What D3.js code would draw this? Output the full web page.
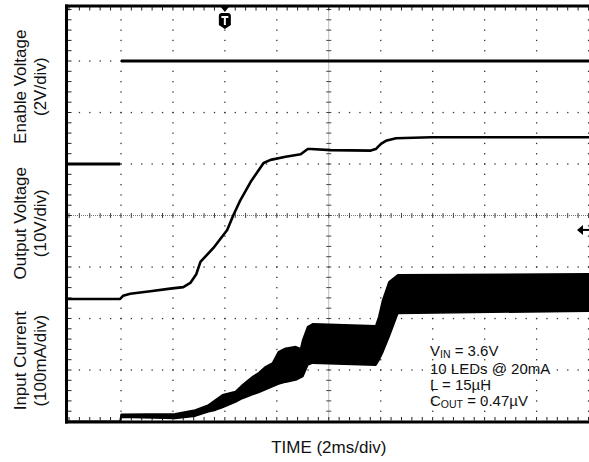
<!DOCTYPE html>
<html lang="en">
<head>
<meta charset="UTF-8">
<title>Startup Waveforms</title>
<script src="https://cdnjs.cloudflare.com/ajax/libs/d3/7.8.5/d3.min.js"></script>
<style>
    body { margin: 0; background: #fff; }
    svg { display: block; font-family: "Liberation Sans", Arial, sans-serif; }
</style>
</head>
<body>
<svg id="chart" width="589" height="462"></svg>
<script>
// Time in ms, trigger at 0, 2 ms/div, 10 divisions
const timeDomain = [-6, 14];
const divsX = 10, divsY = 8;

// Enable voltage (V) - 2 V/div, ground at division 5
const enableLowT = [-6.05, -4.03];
const enableLowV = [0, 0];
const enableHighT = [-4.0, 14.1];
const enableHighV = [4.0, 4.0];

// Output voltage (V) - 10 V/div, ground at division 2
const outT = [-6.05, -4.03, -3.92, -3.64, -2.87, -2.10, -1.60, -1.33, -1.10, -0.94, -0.44, 0.09, 0.33, 0.60, 0.99,
              1.30, 1.49, 1.76, 2.34, 2.92, 3.19, 3.31, 4.08, 5.62, 5.81, 6.01, 6.20, 6.59, 7.94, 14.1];
const outV = [3.8, 3.8, 4.4, 4.8, 5.3, 5.8, 6.1, 6.9, 8.6, 11.0, 13.7, 17.2, 20.1, 23.0, 26.5,
              28.8, 30.2, 30.8, 31.4, 31.9, 32.9, 32.9, 32.7, 32.6, 32.9, 33.9, 34.5, 35.0, 35.2, 35.2];

// Input current (mA) - 100 mA/div, ground at division 0; switching ripple envelope
const curT   = [-6.05, -4.03, -3.99, -1.91, -1.14, -0.63, -0.36, -0.09, 0.41, 0.68, 1.07, 1.30, 1.57, 1.84,
                2.07, 2.34, 2.73, 2.92, 3.00, 3.19, 3.38, 5.81, 5.93, 6.08, 6.32, 6.66, 14.1];
const curTop = [0, 0, 13.6, 14.6, 22.3, 32.0, 41.7, 51.5, 57.9, 70.9, 87.0, 94.2, 106.4, 113.6,
                135.5, 142.1, 145.2, 141.0, 158.3, 184.1, 189.3, 185.4, 203.5, 235.9, 270.9, 284.5, 286.4];
const curBot = [0, 0, 8.7, 6.2, 10.7, 19.0, 22.3, 27.2, 37.9, 45.0, 52.4, 56.3, 62.1, 68.0,
                72.8, 76.7, 80.6, 85.4, 87.4, 109.7, 113.6, 109.7, 119.4, 134.9, 164.7, 210.1, 214.6];

// Trigger level marker (divisions from bottom)
const triggerLevelDiv = 3.72;

const channelLabels = [
    ["Enable Voltage", "(2V/div)"],
    ["Output Voltage", "(10V/div)"],
    ["Input Current", "(100mA/div)"]
];
const channelLabelDiv = [6.5, 3.85, 1.18];
const xLabel = "TIME (2ms/div)";
const notes = [
    ["V", "IN", " = 3.6V"],
    ["10 LEDs @ 20mA", "", ""],
    ["L = 15\u00b5H", "", ""],
    ["C", "OUT", " = 0.47\u00b5V"]
];

// Screen geometry
const plotLeft = 69, plotRight = 588.5, plotTop = 9.5, plotBottom = 421.5;

const x = d3.scaleLinear().domain(timeDomain).range([plotLeft, plotRight]);
const xDiv = d3.scaleLinear().domain([0, divsX]).range([plotLeft, plotRight]);
const yDiv = d3.scaleLinear().domain([0, divsY]).range([plotBottom, plotTop]);
const yEnable = d3.scaleLinear().domain([-10, 6]).range([plotBottom, plotTop]);
const yOut = d3.scaleLinear().domain([-20, 60]).range([plotBottom, plotTop]);
const yCur = d3.scaleLinear().domain([0, 800]).range([plotBottom, plotTop]);

const svg = d3.select("#chart");

svg.append("defs").append("clipPath").attr("id", "plot-clip")
    .append("rect").attr("x", 67).attr("y", 5).attr("width", 530).attr("height", 418);

// Graticule: dotted division lines
const grid = svg.append("g").attr("fill", "#333");
const minorX = d3.range(0, divsX * 5 + 1).map(i => i / 5);
const minorY = d3.range(0, divsY * 5 + 1).map(i => i / 5);

[1, 2, 3, 4, 6, 7, 8, 9, 10].forEach(k => {
    grid.selectAll(null).data(minorY.slice(1, -1)).enter().append("rect")
        .attr("x", xDiv(k) - 0.6).attr("y", d => yDiv(d) - 0.6)
        .attr("width", 1.3).attr("height", 1.3);
});
[1, 2, 3, 5, 6, 7].forEach(k => {
    grid.selectAll(null).data(minorX.slice(1)).enter().append("rect")
        .attr("x", d => xDiv(d) - 0.6).attr("y", yDiv(k) - 0.6)
        .attr("width", 1.3).attr("height", 1.3);
});

// Centre cross-hair with minor ticks
const centre = svg.append("g").attr("stroke", "#444").attr("stroke-width", 1);
centre.append("line")
    .attr("x1", plotLeft).attr("x2", plotRight).attr("y1", yDiv(4)).attr("y2", yDiv(4))
    .attr("stroke", "#777").attr("stroke-dasharray", "1,1");
centre.append("line")
    .attr("x1", xDiv(5)).attr("x2", xDiv(5)).attr("y1", plotTop).attr("y2", plotBottom)
    .attr("stroke", "#777").attr("stroke-dasharray", "1,1");
centre.selectAll(null).data(minorX).enter().append("line")
    .attr("x1", d => xDiv(d)).attr("x2", d => xDiv(d))
    .attr("y1", yDiv(4) - 2.5).attr("y2", yDiv(4) + 2.5);
centre.selectAll(null).data(minorY).enter().append("line")
    .attr("y1", d => yDiv(d)).attr("y2", d => yDiv(d))
    .attr("x1", xDiv(5) - 2.5).attr("x2", xDiv(5) + 2.5);

// Frame ticks
const ticks = svg.append("g").attr("stroke", "#222").attr("stroke-width", 1);
ticks.selectAll(null).data(minorX).enter().append("line")
    .attr("x1", d => xDiv(d)).attr("x2", d => xDiv(d)).attr("y1", 7).attr("y2", 10.5);
ticks.selectAll(null).data(minorX).enter().append("line")
    .attr("x1", d => xDiv(d)).attr("x2", d => xDiv(d)).attr("y1", 420.5).attr("y2", 417);
ticks.selectAll(null).data(minorY).enter().append("line")
    .attr("y1", d => yDiv(d)).attr("y2", d => yDiv(d)).attr("x1", 68).attr("x2", 71.5);

// Traces
const traces = svg.append("g").attr("clip-path", "url(#plot-clip)");
const line = (tArr, vArr, yScale) => d3.line()
    .x((d, i) => x(tArr[i]))
    .y((d, i) => yScale(vArr[i]))(tArr);

traces.append("path").attr("d", line(enableLowT, enableLowV, yEnable))
    .attr("fill", "none").attr("stroke", "#000").attr("stroke-width", 2.8);
traces.append("path").attr("d", line(enableHighT, enableHighV, yEnable))
    .attr("fill", "none").attr("stroke", "#000").attr("stroke-width", 2.8);
traces.append("path").attr("d", line(outT, outV, yOut))
    .attr("fill", "none").attr("stroke", "#000").attr("stroke-width", 2.6)
    .attr("stroke-linejoin", "round");

const curArea = d3.area()
    .x((d, i) => x(curT[i]))
    .y0((d, i) => yCur(curBot[i]))
    .y1((d, i) => yCur(curTop[i]));
traces.append("path").attr("d", curArea(curT))
    .attr("fill", "#000").attr("stroke", "#000").attr("stroke-width", 1.8)
    .attr("stroke-linejoin", "round");

// Frame
const frame = svg.append("g").attr("stroke", "#000").attr("stroke-width", 3);
frame.append("line").attr("x1", 65).attr("x2", 589).attr("y1", 6).attr("y2", 6);
frame.append("line").attr("x1", 65).attr("x2", 589).attr("y1", 422).attr("y2", 422);
frame.append("line").attr("x1", 66.5).attr("x2", 66.5).attr("y1", 4.5).attr("y2", 423.5);

// Trigger position marker
const tx = x(0);
svg.append("path")
    .attr("d", `M${tx - 4},7 L${tx + 4},7 L${tx},12 Z`).attr("fill", "#000");
svg.append("path")
    .attr("d", `M${tx - 6},16 Q${tx - 6},13 ${tx - 3},13 L${tx + 3},13 Q${tx + 6},13 ${tx + 6},16 L${tx + 6},25 L${tx},29 L${tx - 6},25 Z`)
    .attr("fill", "#000");
svg.append("path")
    .attr("d", `M${tx - 3.5},16 L${tx + 3.5},16 L${tx + 3.5},18 L${tx + 1},18 L${tx + 1},25 L${tx - 1},25 L${tx - 1},18 L${tx - 3.5},18 Z`)
    .attr("fill", "#fff");

// Trigger level marker
const ty = yDiv(triggerLevelDiv);
svg.append("path")
    .attr("d", `M577,${ty} L583,${ty - 5} L583,${ty + 5} Z`).attr("fill", "#000");
svg.append("line").attr("x1", 582).attr("x2", 589).attr("y1", ty).attr("y2", ty)
    .attr("stroke", "#000").attr("stroke-width", 2);

// Channel labels
const labels = svg.append("g").attr("fill", "#111").attr("font-size", 17).attr("text-anchor", "middle");
channelLabels.forEach((pair, i) => {
    const cy = yDiv(channelLabelDiv[i]);
    labels.append("text").attr("transform", `translate(25.5,${cy}) rotate(-90)`).text(pair[0]);
    labels.append("text").attr("transform", `translate(46,${cy}) rotate(-90)`).text(pair[1]);
});

svg.append("text")
    .attr("x", xDiv(5)).attr("y", 453)
    .attr("text-anchor", "middle").attr("font-size", 17).attr("fill", "#111")
    .text(xLabel);

// Test conditions
const noteG = svg.append("g").attr("fill", "#111").attr("font-size", 15);
notes.forEach((n, i) => {
    const t = noteG.append("text").attr("x", 430)
        .attr("y", i === 0 ? 356 : 373.5 + (i - 1) * 16.3);
    t.append("tspan").text(n[0]);
    if (n[1]) {
        t.append("tspan").attr("font-size", 10.5).attr("dy", 2).text(n[1]);
        t.append("tspan").attr("dy", -2).text(n[2]);
    }
});
</script>
</body>
</html>
